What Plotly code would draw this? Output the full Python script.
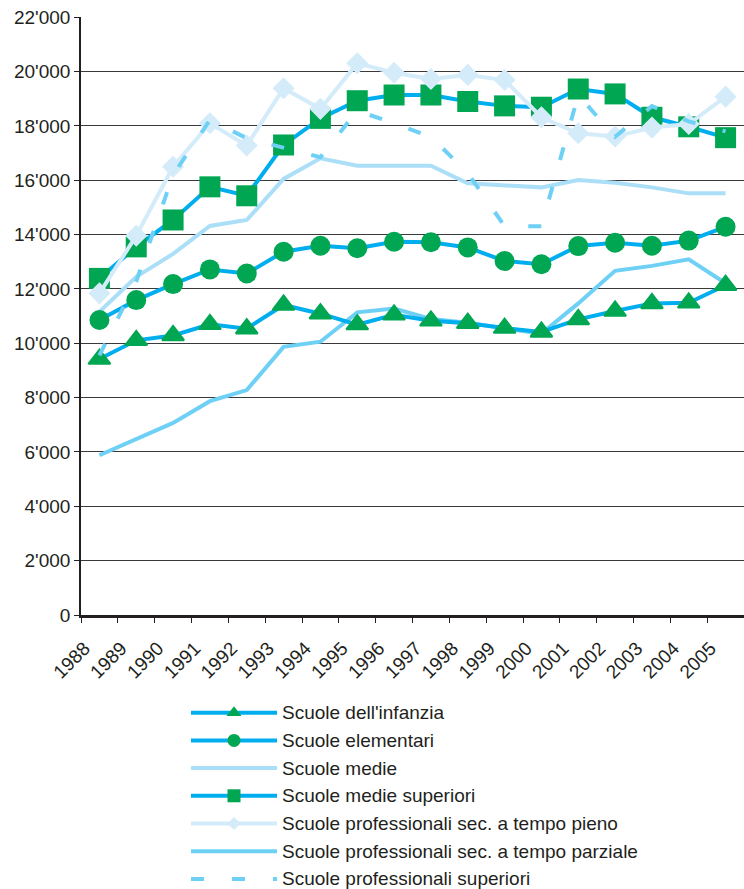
import plotly.graph_objects as go

# Anni scolastici
years = [str(y) for y in range(1988, 2006)]

# Numero di allievi per tipo di scuola
infanzia = [9420, 10110, 10290, 10700, 10540, 11410, 11090, 10690, 11050,
            10830, 10740, 10560, 10420, 10880, 11190, 11470, 11490, 12140]
elementari = [10860, 11590, 12180, 12720, 12570, 13370, 13590, 13500, 13740,
              13720, 13530, 13030, 12910, 13580, 13700, 13590, 13780, 14290]
medie = [11160, 12450, 13290, 14320, 14540, 16050, 16810, 16540, 16540,
         16540, 15890, 15800, 15740, 16010, 15910, 15740, 15520, 15520]
medie_superiori = [12390, 13550, 14540, 15760, 15430, 17300, 18280, 18930, 19140,
                   19140, 18900, 18740, 18690, 19360, 19180, 18320, 17970, 17570]
prof_pieno = [11840, 13960, 16500, 18100, 17280, 19390, 18630, 20310, 19960,
              19730, 19880, 19690, 18320, 17730, 17610, 17940, 18070, 19080]
prof_parziale = [5880, 6460, 7070, 7870, 8280, 9870, 10060, 11140, 11280,
                 10900, 10760, 10550, 10360, 11470, 12670, 12850, 13090, 12210]
prof_superiori = [9560, 12280, 16200, 18220, 17550, 17200, 16850, 18560, 18100,
                  17600, 16270, 14310, 14310, 19140, 17600, 18730, 18170, 17800]

names = [
    "Scuole dell'infanzia",
    "Scuole elementari",
    "Scuole medie",
    "Scuole medie superiori",
    "Scuole professionali sec. a tempo pieno",
    "Scuole professionali sec. a tempo parziale",
    "Scuole professionali superiori",
]
values = [infanzia, elementari, medie, medie_superiori,
          prof_pieno, prof_parziale, prof_superiori]

BLUE = "#00aeef"
GREEN = "#00a651"
TEXT = "#231f20"
FONT = "Liberation Sans, Arial, sans-serif"

# stile: colore linea, tratteggio, simbolo, dimensione marker (grafico), dimensione marker (legenda), colore marker
styles = [
    dict(color=BLUE, dash="solid", symbol="triangle-up", size=19, lsize=13, mcolor=GREEN),
    dict(color=BLUE, dash="solid", symbol="circle", size=20, lsize=13, mcolor=GREEN),
    dict(color="#aadff7", dash="solid", symbol=None, size=0, lsize=0, mcolor=None),
    dict(color=BLUE, dash="solid", symbol="square", size=21, lsize=13, mcolor=GREEN),
    dict(color="#d4ecfa", dash="solid", symbol="diamond", size=17, lsize=10, mcolor="#d4ecfa"),
    dict(color="#6fd0f6", dash="solid", symbol=None, size=0, lsize=0, mcolor=None),
    dict(color="#6fd0f6", dash="13px,28px", symbol=None, size=0, lsize=0, mcolor=None),
]

# ordine di disegno (dal basso verso l'alto)
draw_order = [5, 2, 0, 1, 3, 4, 6]

fig = go.Figure()

for i in draw_order:
    st = styles[i]
    kw = dict(mode="lines")
    if st["symbol"]:
        kw = dict(mode="lines+markers",
                  marker=dict(symbol=st["symbol"], size=st["size"], color=st["mcolor"],
                              line=dict(width=2 if st["symbol"] == "triangle-up" else 0,
                                        color=st["mcolor"])))
    fig.add_trace(go.Scatter(
        x=years, y=values[i], name=names[i],
        line=dict(color=st["color"], width=4, dash=st["dash"]),
        xaxis="x", yaxis="y", showlegend=False, cliponaxis=False, **kw))

# legenda disegnata su assi ausiliari
LX0, LX1, LXM, LXT = 191, 277, 234, 280
for k, (name, st) in enumerate(zip(names, styles)):
    fig.add_trace(go.Scatter(
        x=[LX0, LX1], y=[k, k], mode="lines",
        line=dict(color=st["color"], width=4, dash=st["dash"]),
        xaxis="x2", yaxis="y2", showlegend=False, hoverinfo="skip"))
    if st["symbol"]:
        fig.add_trace(go.Scatter(
            x=[LXM], y=[k], mode="markers",
            marker=dict(symbol=st["symbol"], size=st["lsize"], color=st["mcolor"]),
            xaxis="x2", yaxis="y2", showlegend=False, hoverinfo="skip"))
    fig.add_annotation(x=LXT, y=k, xref="x2", yref="y2", text=name,
                       showarrow=False, xanchor="left", yanchor="middle",
                       font=dict(size=19, color=TEXT, family=FONT))

W, H = 744, 889
plot_left, plot_top, plot_bottom = 81, 17.3, 615

fig.update_layout(
    template="none",
    width=W, height=H, autosize=False,
    margin=dict(l=0, r=0, t=0, b=0, pad=0),
    paper_bgcolor="white", plot_bgcolor="white",
    separators=".'",
    font=dict(family=FONT, color=TEXT, size=19),
    hovermode=False,
    xaxis=dict(
        type="category", domain=[plot_left / W, 1], anchor="y",
        range=[-0.5, len(years) - 0.5], autorange=False, automargin=False,
        tickson="boundaries", ticks="outside", ticklen=5, tickwidth=1, tickcolor=TEXT,
        showline=True, linecolor=TEXT, linewidth=2.5,
        showgrid=False, zeroline=False,
        tickangle=-45, tickfont=dict(size=19, color=TEXT, family=FONT),
        ticklabelshift=-15, ticklabelstandoff=12,
    ),
    yaxis=dict(
        domain=[1 - plot_bottom / H, 1 - plot_top / H], anchor="x",
        range=[0, 22000], autorange=False, automargin=False,
        dtick=2000, tick0=0, tickformat=",d",
        showgrid=True, gridcolor="#3a3a3a", gridwidth=1.2,
        showline=True, linecolor=TEXT, linewidth=1.5,
        ticks="outside", ticklen=5, tickwidth=1, tickcolor=TEXT,
        zeroline=False,
        tickfont=dict(size=19, color=TEXT, family=FONT),
    ),
    xaxis2=dict(domain=[0, 1], range=[0, W], visible=False, anchor="y2", automargin=False),
    yaxis2=dict(domain=[0, 199 / H], range=[6.365, -0.819], visible=False,
                anchor="x2", automargin=False),
)

fig.write_html("out.html")
